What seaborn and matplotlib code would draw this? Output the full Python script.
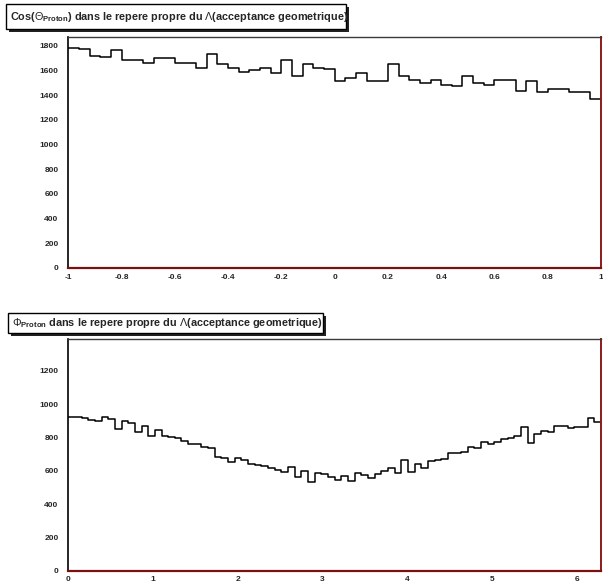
import numpy as np
import pandas as pd
import matplotlib
matplotlib.use("Agg")
import matplotlib.pyplot as plt
import seaborn as sns
from matplotlib.patches import Rectangle
from matplotlib.ticker import MultipleLocator

# ---------------- data ----------------
cos_lo, cos_hi, cos_nbins = -1.0, 1.0, 50
cos_counts = [1780, 1775, 1720, 1712, 1761, 1680, 1685, 1658, 1699, 1699,
              1658, 1658, 1618, 1731, 1650, 1618, 1586, 1599, 1618, 1578,
              1680, 1556, 1650, 1618, 1610, 1511, 1538, 1578, 1511, 1511,
              1650, 1556, 1524, 1497, 1524, 1484, 1470, 1556, 1497, 1484,
              1524, 1524, 1430, 1516, 1425, 1451, 1451, 1425, 1425, 1371]
cos_ymax = 1870
cos_tick_labels = ["-1", "-0.8", "-0.6", "-0.4", "-0.2", "0", "0.2", "0.4", "0.6", "0.8", "1"]

phi_lo, phi_hi, phi_nbins = 0.0, 2 * np.pi, 80
phi_counts = [920, 920, 914, 906, 900, 920, 910, 850, 898, 888,
              834, 870, 810, 842, 810, 800, 794, 778, 758, 758,
              744, 738, 684, 674, 650, 678, 664, 638, 634, 628,
              614, 602, 594, 624, 564, 600, 530, 588, 578, 560,
              544, 568, 538, 584, 574, 558, 578, 598, 614, 588,
              664, 594, 638, 618, 658, 664, 668, 704, 704, 714,
              740, 734, 774, 758, 774, 788, 798, 810, 860, 768,
              820, 838, 834, 870, 870, 858, 864, 864, 918, 894]
phi_ymax = 1390

title_top = r"Cos($\Theta_{\mathbf{Proton}}$) dans le repere propre du $\Lambda$(acceptance geometrique)"
title_bot = r"$\Phi_{\mathbf{Proton}}$ dans le repere propre du $\Lambda$(acceptance geometrique)"

# ---------------- style ----------------
sns.set_style("white")
plt.rcParams['font.family'] = ['Liberation Sans', 'DejaVu Sans']
plt.rcParams['axes.unicode_minus'] = False
plt.rcParams['mathtext.fontset'] = 'custom'
plt.rcParams['mathtext.rm'] = 'Liberation Sans'
plt.rcParams['mathtext.it'] = 'Liberation Sans:italic'
plt.rcParams['mathtext.bf'] = 'Liberation Sans:bold'

W, H = 603, 583
fig = plt.figure(figsize=(W / 100, H / 100), dpi=100)
fig.patch.set_facecolor("white")

def fx(px):
    return px / W

def fy(py):
    return 1 - py / H

def make_axes(top, bottom):
    return fig.add_axes([fx(68.3), fy(bottom), fx(601) - fx(68.3), (bottom - top) / H])

ax1 = make_axes(37, 268)
ax2 = make_axes(339, 570.7)

def draw_hist(ax, lo, hi, nbins, counts):
    edges = [float(e) for e in np.linspace(lo, hi, nbins + 1)]
    centers = [0.5 * (edges[i] + edges[i + 1]) for i in range(nbins)]
    df = pd.DataFrame({"x": centers, "w": counts})
    sns.histplot(data=df, x="x", weights="w", bins=edges, element="step",
                 fill=False, color="black", linewidth=1.1, ax=ax)
    ax.set_xlim(lo, hi)
    ax.set_xlabel("")
    ax.set_ylabel("")

draw_hist(ax1, cos_lo, cos_hi, cos_nbins, cos_counts)
ax1.set_ylim(0, cos_ymax)
ax1.set_xticks(np.linspace(cos_lo, cos_hi, len(cos_tick_labels)))
ax1.set_xticklabels(cos_tick_labels)
ax1.xaxis.set_minor_locator(MultipleLocator(0.04))
ax1.yaxis.set_major_locator(MultipleLocator(200))
ax1.yaxis.set_minor_locator(MultipleLocator(40))

draw_hist(ax2, phi_lo, phi_hi, phi_nbins, phi_counts)
ax2.set_ylim(0, phi_ymax)
ax2.xaxis.set_major_locator(MultipleLocator(1))
ax2.xaxis.set_minor_locator(MultipleLocator(0.2))
ax2.yaxis.set_major_locator(MultipleLocator(200))
ax2.yaxis.set_minor_locator(MultipleLocator(40))

for ax in (ax1, ax2):
    ax.tick_params(axis="y", which="major", direction="in", length=10.5, width=1.0,
                   color="black", labelsize=6, pad=7)
    ax.tick_params(axis="y", which="minor", direction="in", length=5.5, width=0.9, color="black")
    ax.tick_params(axis="x", which="major", direction="in", length=5, width=1.0,
                   color="black", labelsize=6, pad=4)
    ax.tick_params(axis="x", which="minor", direction="in", length=2.5, width=0.8, color="black")
    for lab in ax.get_xticklabels() + ax.get_yticklabels():
        lab.set_fontweight("bold")
    ax.spines["left"].set_color("black")
    ax.spines["left"].set_linewidth(1.2)
    ax.spines["top"].set_color("#3a3a3a")
    ax.spines["top"].set_linewidth(1.0)
    ax.spines["right"].set_color("#8b1a1a")
    ax.spines["right"].set_linewidth(1.4)
    ax.spines["bottom"].set_color("#7a1010")
    ax.spines["bottom"].set_linewidth(1.6)
    ax.set_facecolor("white")

def title_box(x0, y0, x1, y1, text, tx):
    sh = 3
    fig.patches.append(Rectangle((fx(x0 + sh), fy(y1 + sh)), fx(x1 - x0), (y1 - y0) / H,
                                 transform=fig.transFigure, facecolor="#222222",
                                 edgecolor="none", zorder=5))
    fig.patches.append(Rectangle((fx(x0), fy(y1)), fx(x1 - x0), (y1 - y0) / H,
                                 transform=fig.transFigure, facecolor="white",
                                 edgecolor="black", linewidth=1.0, zorder=6))
    fig.text(fx(tx), fy((y0 + y1) / 2), text, ha="left", va="center",
             fontsize=7.8, fontweight="bold", zorder=7)

title_box(6, 4, 346, 29, title_top, 10)
title_box(8, 313, 323, 333, title_bot, 12)

fig.savefig("out.png", dpi=100, facecolor="white")
